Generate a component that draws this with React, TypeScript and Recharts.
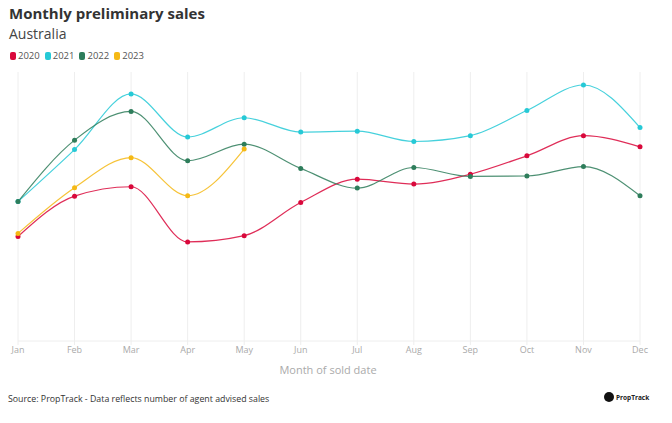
import React from 'react';
import { LineChart, Line, XAxis, YAxis, CartesianGrid } from 'recharts';

const months = ['Jan', 'Feb', 'Mar', 'Apr', 'May', 'Jun', 'Jul', 'Aug', 'Sep', 'Oct', 'Nov', 'Dec'];

const sales2020 = [23300, 32300, 34400, 22100, 23500, 30900, 36100, 35000, 37200, 41300, 45800, 43300];
const sales2021 = [31100, 42700, 55100, 45500, 49800, 46600, 46800, 44500, 45800, 51400, 57100, 47600];
const sales2022 = [31100, 44800, 51200, 40200, 43900, 38500, 34100, 38700, 36700, 36800, 38900, 32400];
const sales2023 = [24000, 34200, 40900, 32400, 42800];

const series = [
  { key: 'y2020', label: '2020', color: '#d9083b' },
  { key: 'y2021', label: '2021', color: '#26c9d6' },
  { key: 'y2022', label: '2022', color: '#2e7d5b' },
  { key: 'y2023', label: '2023', color: '#f5b915' },
];

const chartData = months.map((m, i) => ({
  month: m,
  y2020: sales2020[i],
  y2021: sales2021[i],
  y2022: sales2022[i],
  y2023: i < sales2023.length ? sales2023[i] : null,
}));

const font = '"Open Sans", "DejaVu Sans", sans-serif';

export default function App() {
  return (
    <div
      style={{
        position: 'absolute',
        left: 0,
        top: 0,
        width: 672,
        height: 423,
        background: '#fff',
        fontFamily: font,
        overflow: 'hidden',
      }}
    >
      <div style={{ position: 'absolute', left: 9, top: 6, fontSize: 15, lineHeight: '15px', fontWeight: 700, color: '#333' }}>
        Monthly preliminary sales
      </div>
      <div style={{ position: 'absolute', left: 9, top: 26.5, fontSize: 14, lineHeight: '14px', color: '#444' }}>
        Australia
      </div>

      <div
        style={{
          position: 'absolute',
          left: 10,
          top: 51,
          display: 'flex',
          gap: 5,
          fontSize: 9.5,
          lineHeight: '10px',
          color: '#555',
        }}
      >
        {series.map((s) => (
          <div key={s.key} style={{ display: 'flex', alignItems: 'center', gap: 2 }}>
            <span style={{ width: 6, height: 8, borderRadius: 2, background: s.color, display: 'inline-block' }} />
            <span>{s.label}</span>
          </div>
        ))}
      </div>

      <div style={{ position: 'absolute', left: 0, top: 60 }}>
        <LineChart width={672} height={300} data={chartData} margin={{ top: 12, right: 32, left: 18, bottom: 0 }}>
          <CartesianGrid horizontal={false} stroke="#eeeeee" />
          <XAxis
            dataKey="month"
            height={19}
            stroke="#eeeeee"
            tickSize={4}
            tick={{ fill: '#aaaaaa', fontSize: 9 }}
            interval={0}
          />
          <YAxis hide domain={[0, 60000]} />
          {series.map((s) => (
            <Line
              key={s.key}
              type="monotone"
              dataKey={s.key}
              stroke={s.color}
              strokeWidth={1.2}
              strokeOpacity={0.85}
              dot={{ r: 2.5, fill: s.color, stroke: s.color, strokeWidth: 0 }}
              activeDot={false}
              isAnimationActive={false}
            />
          ))}
        </LineChart>
      </div>

      <div
        style={{ position: 'absolute', left: 0, width: 656, top: 362, textAlign: 'center', fontSize: 11, color: '#aaa' }}
      >
        Month of sold date
      </div>

      <div style={{ position: 'absolute', left: 8, top: 393, fontSize: 8.8, color: '#333' }}>
        Source: PropTrack - Data reflects number of agent advised sales
      </div>

      <div style={{ position: 'absolute', left: 604, top: 392, display: 'flex', alignItems: 'center', gap: 2 }}>
        <span
          style={{
            width: 10,
            height: 10,
            borderRadius: 5,
            background: '#111',
            display: 'inline-block',
          }}
        />
        <span style={{ fontSize: 6.5, fontWeight: 700, color: '#222' }}>PropTrack</span>
      </div>
    </div>
  );
}
